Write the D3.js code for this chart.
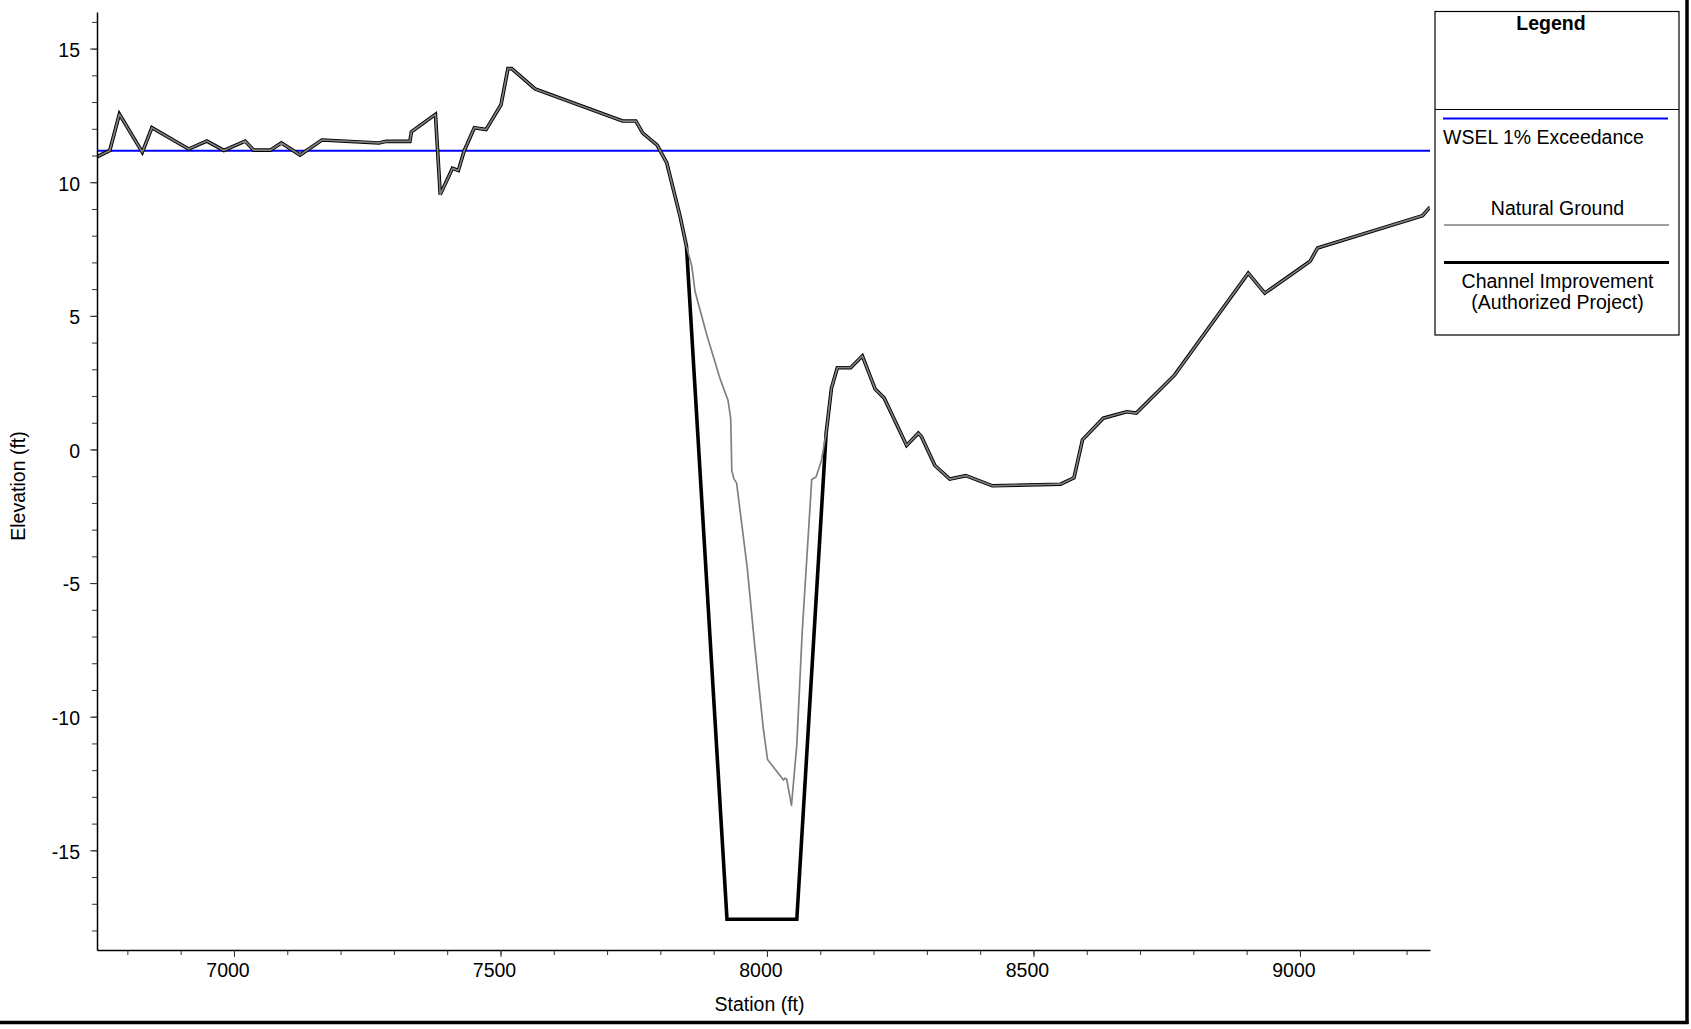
<!DOCTYPE html>
<html>
<head>
<meta charset="utf-8">
<script src="https://cdn.jsdelivr.net/npm/d3@7"></script>
<style>
  html, body { margin: 0; padding: 0; background: #fff; }
  svg { display: block; font-family: "Liberation Sans", Arial, Helvetica, sans-serif; }
</style>
</head>
<body>
<svg id="chart" width="1691" height="1029"></svg>
<script>
// Cross-section profile: station (ft) vs. elevation (ft)

// Natural ground survey points
const groundStation = [
  6743, 6767, 6785, 6828, 6846, 6915, 6949, 6981, 7021, 7037, 7068, 7089, 7124, 7165,
  7272, 7286, 7330, 7333, 7378, 7387, 7410, 7421, 7432, 7451, 7473, 7501, 7514, 7521,
  7565, 7729, 7754, 7767, 7794, 7812, 7837, 7849, 7859, 7865, 7887, 7912, 7927, 7932,
  7934, 7938, 7943, 7963, 7977, 7993, 8001, 8031, 8034, 8037, 8046, 8056, 8066, 8084,
  8092, 8102, 8111, 8121, 8132, 8157, 8179, 8203, 8220, 8262, 8284, 8290, 8315, 8343,
  8373, 8423, 8551, 8576, 8592, 8631, 8675, 8693, 8765, 8903, 8934, 9019, 9033, 9230, 9244
];
const groundElev = [
  10.95, 11.19, 12.55, 11.12, 12.04, 11.24, 11.54, 11.19, 11.54, 11.20, 11.20, 11.47, 11.02, 11.58,
  11.47, 11.53, 11.53, 11.89, 12.54, 9.54, 10.52, 10.44, 11.18, 12.04, 11.97, 12.90, 14.25, 14.25,
  13.49, 12.29, 12.29, 11.84, 11.39, 10.72, 8.72, 7.60, 6.86, 5.92, 4.29, 2.65, 1.83, 1.15,
  -0.79, -1.10, -1.25, -4.43, -7.33, -10.42, -11.60, -12.37, -12.30, -12.34, -13.32, -11.05, -6.87, -1.12,
  -1.03, -0.43, 0.60, 2.29, 3.06, 3.06, 3.50, 2.26, 1.92, 0.15, 0.61, 0.48, -0.60, -1.11,
  -0.98, -1.36, -1.30, -1.06, 0.36, 1.17, 1.41, 1.36, 2.79, 6.60, 5.85, 7.04, 7.54, 8.75, 9.07
];

// Authorized channel cut (replaces natural ground between its end stations)
const channelStation = [7849, 7925, 8056, 8111];
const channelElev = [7.60, -17.58, -17.58, 0.60];

// Water surface elevation, 1% exceedance
const wselElev = 11.18;

// Axis ticks
const xMajorTicks = [7000, 7500, 8000, 8500, 9000];
const xMinorTicks = [6800, 6900, 7000, 7100, 7200, 7300, 7400, 7500, 7600, 7700, 7800, 7900, 8000,
                     8100, 8200, 8300, 8400, 8500, 8600, 8700, 8800, 8900, 9000, 9100, 9200];
const yMajorTicks = [-15, -10, -5, 0, 5, 10, 15];
const yMinorTicks = [-18, -17, -16, -15, -14, -13, -12, -11, -10, -9, -8, -7, -6, -5, -4, -3, -2, -1,
                     0, 1, 2, 3, 4, 5, 6, 7, 8, 9, 10, 11, 12, 13, 14, 15, 16];

const legendLabels = ["WSEL 1% Exceedance", "Natural Ground", "Channel Improvement", "(Authorized Project)"];

// ---------------------------------------------------------------
const svg = d3.select("#chart");
const plot = { left: 97, right: 1430, top: 12, bottom: 950 };
const FONT = 19.5;

const x = d3.scaleLinear().domain([6743, 9244]).range([plot.left, plot.right]);
const y = d3.scaleLinear().domain([-18.73, 16.37]).range([plot.bottom, plot.top]);

const ground = groundStation.map((s, i) => ({ s, e: groundElev[i] }));
const cut = channelStation.map((s, i) => ({ s, e: channelElev[i] }));
const cutStart = channelStation[0], cutEnd = channelStation[channelStation.length - 1];
const improvement = ground.filter(d => d.s < cutStart)
  .concat(cut)
  .concat(ground.filter(d => d.s > cutEnd));

svg.append("defs").append("clipPath").attr("id", "plotClip")
  .append("rect")
  .attr("x", plot.left).attr("y", plot.top)
  .attr("width", plot.right - plot.left).attr("height", plot.bottom - plot.top);

const line = d3.line().x(d => x(d.s)).y(d => y(d.e));
const layer = svg.append("g").attr("clip-path", "url(#plotClip)");

// WSEL
layer.append("line")
  .attr("x1", x(x.domain()[0])).attr("x2", x(x.domain()[1]))
  .attr("y1", y(wselElev)).attr("y2", y(wselElev))
  .attr("stroke", "#0000ff").attr("stroke-width", 2);

// Channel improvement (thick black), natural ground drawn over it
layer.append("path").datum(improvement)
  .attr("d", line).attr("fill", "none")
  .attr("stroke", "#000").attr("stroke-width", 3.6)
  .attr("stroke-linejoin", "miter").attr("stroke-miterlimit", 3);

layer.append("path").datum(ground)
  .attr("d", line).attr("fill", "none")
  .attr("stroke", "#808080").attr("stroke-width", 1.7)
  .attr("stroke-linejoin", "round");

// ---- Axes ----
const plainNumber = d => String(d);   // hyphen-minus, as printed on the sheet

const yMinor = svg.append("g").attr("transform", `translate(${plot.left},0)`)
  .call(d3.axisLeft(y).tickValues(yMinorTicks).tickSize(5).tickSizeOuter(0).tickFormat(""));
yMinor.select(".domain").remove();

const yAxis = svg.append("g").attr("transform", `translate(${plot.left},0)`)
  .call(d3.axisLeft(y).tickValues(yMajorTicks).tickSize(7).tickSizeOuter(0).tickPadding(10)
    .tickFormat(plainNumber));

const xMinor = svg.append("g").attr("transform", `translate(0,${plot.bottom})`)
  .call(d3.axisBottom(x).tickValues(xMinorTicks).tickSize(5).tickSizeOuter(0).tickFormat(""));
xMinor.select(".domain").remove();

const xAxis = svg.append("g").attr("transform", `translate(0,${plot.bottom})`)
  .call(d3.axisBottom(x).tickValues(xMajorTicks).tickSize(7).tickSizeOuter(0).tickPadding(6)
    .tickFormat(plainNumber));

[yMinor, yAxis, xMinor, xAxis].forEach(g => {
  g.selectAll(".tick line").attr("stroke", "#333");
  g.selectAll("text").attr("font-size", FONT).attr("fill", "#000")
    .attr("font-family", "'Liberation Sans', Arial, sans-serif");
});
yAxis.select(".domain").attr("stroke", "#000").attr("stroke-width", 1.5);
xAxis.select(".domain").attr("stroke", "#000").attr("stroke-width", 1.5);
yAxis.selectAll("text").attr("dy", "0.40em");
xAxis.selectAll("text").attr("dx", -6.5);

// Axis titles
svg.append("text")
  .attr("x", (plot.left + plot.right) / 2 - 4).attr("y", 1011)
  .attr("text-anchor", "middle").attr("font-size", FONT)
  .text("Station (ft)");

svg.append("text")
  .attr("transform", `translate(25,486) rotate(-90)`)
  .attr("text-anchor", "middle").attr("font-size", FONT)
  .text("Elevation (ft)");

// ---- Legend ----
const lg = svg.append("g");
const box = { left: 1435, right: 1679, top: 11.5, bottom: 335 };
lg.append("rect")
  .attr("x", box.left).attr("y", box.top)
  .attr("width", box.right - box.left).attr("height", box.bottom - box.top)
  .attr("fill", "#fff").attr("stroke", "#000").attr("stroke-width", 1.2);
lg.append("line")
  .attr("x1", box.left).attr("x2", box.right).attr("y1", 109.5).attr("y2", 109.5)
  .attr("stroke", "#000").attr("stroke-width", 1.2);
lg.append("text")
  .attr("x", 1551).attr("y", 29.5).attr("text-anchor", "middle")
  .attr("font-size", FONT).attr("font-weight", "bold")
  .text("Legend");

lg.append("line").attr("x1", 1443).attr("x2", 1668).attr("y1", 118.5).attr("y2", 118.5)
  .attr("stroke", "#0000ff").attr("stroke-width", 2);
lg.append("text").attr("x", 1443).attr("y", 144).attr("font-size", FONT)
  .text(legendLabels[0]);

lg.append("text").attr("x", 1557.5).attr("y", 214.5).attr("text-anchor", "middle")
  .attr("font-size", FONT).text(legendLabels[1]);
lg.append("line").attr("x1", 1444).attr("x2", 1669).attr("y1", 225).attr("y2", 225)
  .attr("stroke", "#7f7f7f").attr("stroke-width", 1.5);

lg.append("line").attr("x1", 1444).attr("x2", 1669).attr("y1", 262.5).attr("y2", 262.5)
  .attr("stroke", "#000").attr("stroke-width", 3.2);
lg.append("text").attr("x", 1557.5).attr("y", 287.5).attr("text-anchor", "middle")
  .attr("font-size", FONT).text(legendLabels[2]);
lg.append("text").attr("x", 1557.5).attr("y", 308.5).attr("text-anchor", "middle")
  .attr("font-size", FONT).text(legendLabels[3]);

// ---- Page frame (right and bottom edges) ----
svg.append("line").attr("x1", 0).attr("x2", 1688.5).attr("y1", 1022.5).attr("y2", 1022.5)
  .attr("stroke", "#000").attr("stroke-width", 3.5);
svg.append("line").attr("x1", 1687).attr("x2", 1687).attr("y1", 0).attr("y2", 1024)
  .attr("stroke", "#000").attr("stroke-width", 3.5);
</script>
</body>
</html>
